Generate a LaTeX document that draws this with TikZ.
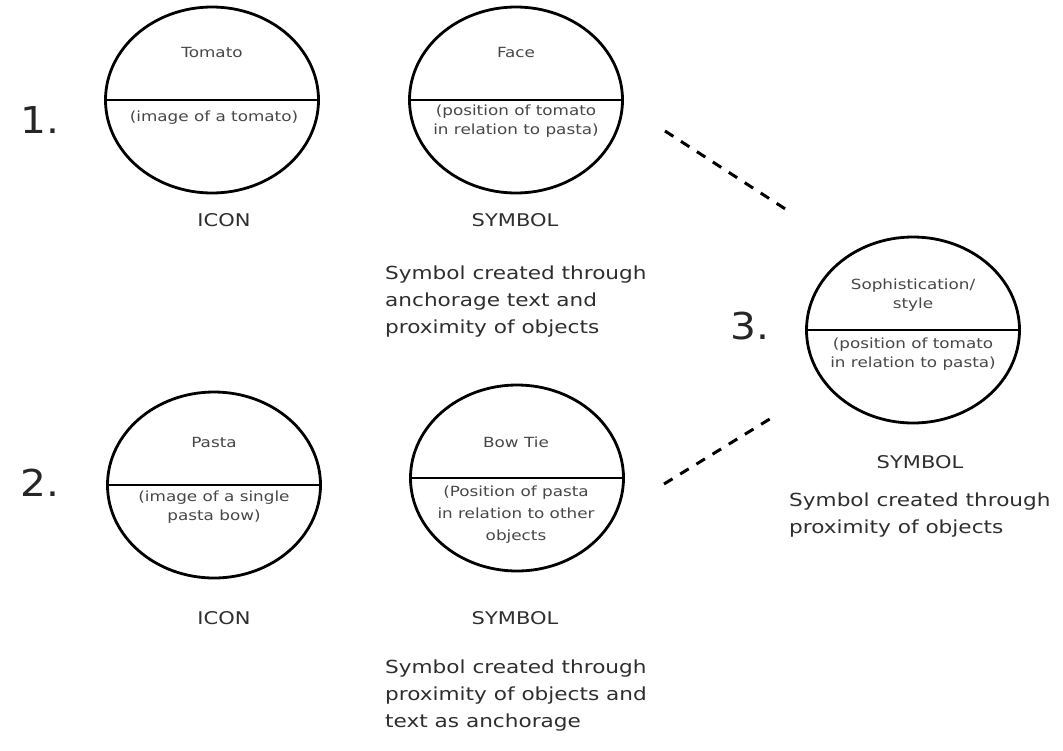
\documentclass[tikz,border=0pt]{standalone}
\usepackage{fontspec}
\setmainfont{DejaVu Sans}[FakeStretch=1.2]
\newfontfamily\numfont{DejaVu Sans}[FakeStretch=1.1]
\usetikzlibrary{shapes.geometric}
\begin{document}
\begin{tikzpicture}[x=1pt,y=-1pt,
  sign/.style={draw=black,line width=2.8pt,ellipse,minimum width=213pt,minimum height=186pt,inner sep=0pt},
  small/.style={text=black!72,font=\fontsize{14}{19}\selectfont,align=center,inner sep=0pt},
  big/.style={text=black!82,font=\fontsize{18}{27}\selectfont,align=left,inner sep=0pt,anchor=north west},
  kind/.style={text=black!82,font=\fontsize{17.5}{20}\selectfont,inner sep=0pt},
  num/.style={text=black!85,font=\numfont\fontsize{37}{37}\selectfont,inner sep=0pt},
  link/.style={line width=3pt,dash pattern=on 10pt off 9pt}]
\useasboundingbox (0,0) rectangle (1063,750);
% ellipses
\node[sign] (e1) at (212,100) {};
\node[sign] (e2) at (516,100) {};
\node[sign] (e3) at (913,330) {};
\node[sign] (e4) at (214,485) {};
\node[sign] (e5) at (517,478) {};
\foreach \e in {e1,e2,e3,e4,e5}{\draw[line width=2.8pt] (\e.west) -- (\e.east);}
% inner texts
\node[small] (t1) at (212,52) {Tomato};
\node[small] (b1) at (214,118) {(image of a tomato)};
\node[small] (t2) at (516,52) {Face};
\node[small] (b2) at (516,121) {(position of tomato\\in relation to pasta)};
\node[small] (t3) at (913,295) {Sophistication/\\style};
\node[small] (b3) at (913,354) {(position of tomato\\in relation to pasta)};
\node[small] (t4) at (214,442) {Pasta};
\node[small] (b4) at (214,507) {(image of a single\\pasta bow)};
\node[small] (t5) at (516,442) {Bow Tie};
\node[small,font=\fontsize{14}{22}\selectfont] (b5) at (516,515) {(Position of pasta\\in relation to other\\objects};
% numbers
\node[num] (n1) at (40,120) {1.};
\node[num] (n2) at (40,483) {2.};
\node[num] (n3) at (750,326) {3.};
% kinds
\node[kind] (k1) at (224,220) {ICON};
\node[kind] (k2) at (515,220) {SYMBOL};
\node[kind] (k3) at (920,462) {SYMBOL};
\node[kind] (k4) at (224,618) {ICON};
\node[kind] (k5) at (515,618) {SYMBOL};
% descriptions
\node[big] (d2) at (385,266) {Symbol created through\\anchorage text and\\proximity of objects};
\node[big] (d3) at (789,493) {Symbol created through\\proximity of objects};
\node[big] (d5) at (385,660) {Symbol created through\\proximity of objects and\\text as anchorage};
% dashed links
\coordinate (a1) at (665,131);
\coordinate (a2) at (790,212);
\coordinate (c1) at (664,484);
\coordinate (c2) at (773,417);
\draw[link] (a1) -- (a2);
\draw[link] (c1) -- (c2);
\end{tikzpicture}
\end{document}
